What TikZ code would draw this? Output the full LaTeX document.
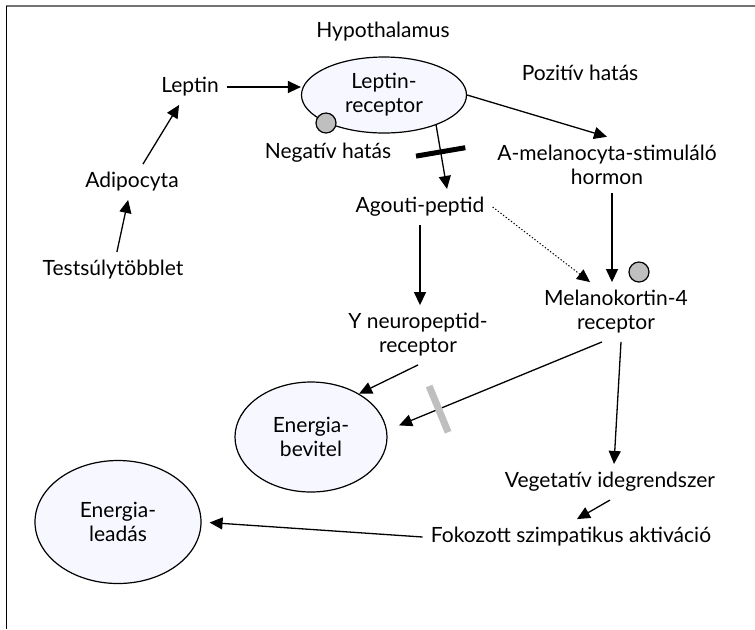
\documentclass[tikz,border=0pt]{standalone}
\usepackage{fontspec}
\setmainfont{Lato}
\usetikzlibrary{arrows.meta,shapes,positioning}

\begin{document}
\begin{tikzpicture}[x=0.5pt,y=-0.5pt,
  every node/.style={align=center,inner sep=4pt,font=\fontsize{10.5}{12}\selectfont},%
  e/.style={-{Triangle[length=6.5pt,width=6pt]},line width=0.65pt},%
  dt/.style={e,densely dotted,line width=0.5pt},%
  el/.style={ellipse,draw,fill=blue!3,line width=0.6pt,inner sep=0pt},%
  gc/.style={circle,draw,fill=black!25,minimum size=10pt,inner sep=0pt,line width=0.6pt},%
  bk/.style={rectangle,fill=black,sloped,minimum width=2.5pt,minimum height=25pt,inner sep=0pt},%
  gb/.style={rectangle,fill=black!25,sloped,minimum width=3.5pt,minimum height=25pt,inner sep=0pt},%
  ]
  \useasboundingbox (0,0) rectangle (755,629);
  \draw [black!55,line width=1pt] (6,6) -- (755,6);
  \draw [line width=0.5pt] (6,6) -- (6,629);

  \node (hyp) at (383,32) {Hypothalamus};
  \node (lr) [el,minimum width=82.5pt,minimum height=38pt] at (384,95) {Leptin-\\receptor};
  \node (lrc) [gc] at (326,123) {};
  \node (neg) at (328,153) {Negatív hatás};
  \node (poz) at (580,73) {Pozitív hatás};

  \node (lep) at (190,87) {Leptin};
  \node (adi) at (132,182) {Adipocyta};
  \node (tst) at (113,270) {Testsúlytöbblet};

  \node (amsh) at (607,165) {A-melanocyta-stimuláló\\hormon};
  \node (ago) at (420,207) {Agouti-peptid};
  \node (mc4) at (616,312) {Melanokortin-4\\receptor};
  \node (mcc) [gc] at (639,272) {};
  \node (npy) at (418,335) {Y neuropeptid-\\receptor};

  \node (bev) [el,minimum width=76pt,minimum height=55pt] at (311,437) {Energia-\\bevitel};
  \node (veg) at (610,482) {Vegetatív idegrendszer};
  \node (fok) at (571,537) {Fokozott szimpatikus aktiváció};
  \node (lea) [el,minimum width=83pt,minimum height=61.5pt] at (118,522) {Energia-\\leadás};

  \draw [e] (tst) -- (adi);
  \draw [e] (adi) -- (lep);
  \draw [e] (lep.east) -- (lr.west |- lep.east);
  \draw [e] (lr.east) -- (amsh.north);
  \draw [e] (lr.-30) -- node [bk,pos=0.42] {} ([xshift=13.5pt]ago.north);
  \draw [dt] (ago.east) -- ([xshift=-13pt]mc4.north);
  \draw [e] ([xshift=2.5pt]amsh.south) -- ([xshift=-2pt]mc4.north);
  \draw [e] (ago.south) -- (ago.south |- npy.north);
  \draw [e] (npy.south) -- (bev.42);
  \draw [e,shorten >=6.5pt] ([xshift=-7pt]mc4.south) -- node [gb,pos=0.76] {} (bev.5);
  \draw [e] ([xshift=2.5pt]mc4.south) -- ([xshift=2pt]veg.north);
  \draw [e] (veg.south) -- ([xshift=3pt]fok.north);
  \draw [e,shorten >=4pt] (fok.west) -- (lea.east);
\end{tikzpicture}
\end{document}
